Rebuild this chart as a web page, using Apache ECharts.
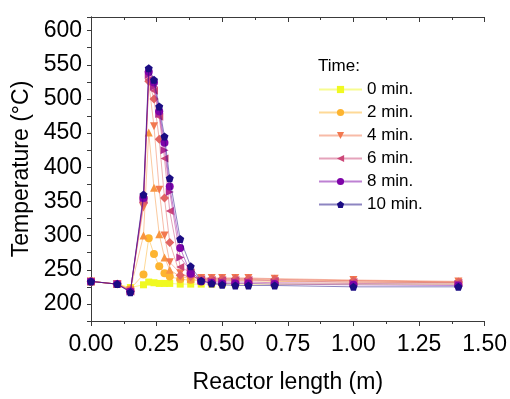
<!DOCTYPE html>
<html><head><meta charset="utf-8">
<script src="https://cdn.jsdelivr.net/npm/echarts@6/dist/echarts.min.js"></script>
<style>html,body{margin:0;padding:0;background:#fff}#c{width:510px;height:399px}</style>
</head><body><div id="c"></div>
<script>
const xPos = [0, 0.1, 0.15, 0.2, 0.22, 0.24, 0.26, 0.28, 0.30, 0.34, 0.38, 0.42, 0.46, 0.50, 0.55, 0.60, 0.70, 1.00, 1.40];
const t0  = [233, 229, 224, 228, 232, 231, 230, 230, 230, 229, 229, 229, 229, 229, 229, 229, 229, 229, 229];
const t2  = [233, 229, 222, 243, 296, 273, 255, 245, 240, 236, 235, 234, 234, 234, 234, 234, 233, 232, 231];
const t3  = [233, 229, 221, 300, 451, 370, 302, 268, 250, 240, 237, 236, 236, 236, 236, 236, 235, 234, 232];
const t4  = [233, 229, 220, 341, 524, 460, 367, 300, 261, 245, 239, 238, 238, 238, 238, 238, 237, 235, 233];
const t5  = [233, 229, 219, 348, 526, 500, 441, 355, 290, 242, 240, 237, 237, 237, 237, 237, 236, 234, 232];
const t6  = [233, 229, 218, 352, 528, 512, 474, 413, 336, 254, 246, 236, 235, 235, 235, 235, 234, 232, 231];
const t7  = [233, 229, 218, 354, 535, 518, 478, 425, 364, 268, 248, 234, 233, 232, 232, 232, 231, 230, 229];
const t8  = [233, 229, 218, 355, 540, 524, 482, 436, 372, 282, 244, 233, 231, 230, 230, 230, 229, 228, 227];
const t10 = [233, 229, 217, 360, 545, 528, 489, 445, 384, 295, 255, 234, 230, 228, 227, 227, 227, 225, 225];
const seriesNames = ['0 min.', '2 min.', '3 min.', '4 min.', '5 min.', '6 min.', '7 min.', '8 min.', '10 min.'];
const legendNames = ['0 min.', '2 min.', '4 min.', '6 min.', '8 min.', '10 min.'];
const seriesVals = [t0, t2, t3, t4, t5, t6, t7, t8, t10];
const colors = ['#f0f921', '#fdb42f', '#f89540', '#f2784f', '#e16462', '#cc4778', '#b12a90', '#7e03a8', '#1b0c83'];
const pentagon = 'path://M0,-10L9.51,-3.09L5.88,8.09L-5.88,8.09L-9.51,-3.09Z';
const symbols = ['rect', 'circle', 'triangle', 'triangle', 'diamond', 'triangle', 'triangle', 'circle', pentagon];
const rotations = [0, 0, 0, 180, 0, 90, -90, 0, 0];
const xTicks = [0, 0.25, 0.5, 0.75, 1.0, 1.25, 1.5];
const yTicks = [200, 250, 300, 350, 400, 450, 500, 550, 600];

const FONT = 'Liberation Sans, Arial, sans-serif';
const chart = echarts.init(document.getElementById('c'), null, {renderer: 'canvas'});
const axisLineStyle = {color: '#3a3a3a', width: 1};
const series = seriesVals.map((vals, i) => ({
  name: seriesNames[i],
  type: 'line',
  data: vals.map((v, j) => [xPos[j], v]),
  symbol: symbols[i],
  symbolRotate: rotations[i],
  symbolSize: i === 0 ? 7 : (symbols[i] === 'diamond' ? 9 : 8),
  showAllSymbol: true,
  itemStyle: {color: colors[i], opacity: 1},
  lineStyle: {color: colors[i], width: 1, opacity: 0.5},
  emphasis: {disabled: true},
  animation: false,
  z: 2 + i
}));
chart.setOption({
  animation: false,
  textStyle: {fontFamily: FONT},
  grid: {left: 91, right: 25, top: 17, bottom: 71, containLabel: false},
  xAxis: [{
    type: 'value', min: 0, max: 1.5, interval: 0.25,
    name: 'Reactor length (m)', nameLocation: 'middle', nameGap: 50,
    nameTextStyle: {fontSize: 23, color: '#000', fontFamily: FONT},
    axisLine: {lineStyle: axisLineStyle},
    axisTick: {show: true, inside: false, length: 5, lineStyle: axisLineStyle},
    minorTick: {show: true, splitNumber: 2, length: 3, lineStyle: axisLineStyle},
    axisLabel: {fontSize: 23, color: '#000', margin: 12, fontFamily: FONT,
      formatter: v => xTicks.some(t => Math.abs(t - v) < 1e-6) ? v.toFixed(2) : ''},
    splitLine: {show: false}
  }, {
    type: 'value', min: 0, max: 1.5, interval: 0.25, position: 'top',
    axisLine: {show: true, lineStyle: axisLineStyle},
    axisTick: {show: true, inside: true, length: 5, lineStyle: axisLineStyle},
    minorTick: {show: true, splitNumber: 2, length: 3, lineStyle: axisLineStyle},
    axisLabel: {show: false}, splitLine: {show: false}
  }],
  yAxis: [{
    type: 'value', min: 175, max: 620, interval: 25,
    name: 'Temperature (°C)', nameLocation: 'middle', nameGap: 57,
    nameTextStyle: {fontSize: 23, color: '#000', fontFamily: FONT},
    axisLine: {show: true, lineStyle: axisLineStyle},
    axisTick: {show: true, inside: false, length: 4, lineStyle: axisLineStyle},
    axisLabel: {fontSize: 23, color: '#000', margin: 9, fontFamily: FONT,
      formatter: v => yTicks.indexOf(Math.round(v)) >= 0 && Math.abs(v - Math.round(v)) < 1e-6 ? String(Math.round(v)) : ''},
    splitLine: {show: false}
  }, {
    type: 'value', min: 175, max: 620, interval: 25, position: 'right',
    axisLine: {show: true, lineStyle: axisLineStyle},
    axisTick: {show: true, inside: true, length: 4, lineStyle: axisLineStyle},
    axisLabel: {show: false}, splitLine: {show: false}
  }],
  legend: {
    orient: 'vertical', left: 318, top: 81, padding: 0,
    itemWidth: 43, itemHeight: 9, itemGap: 6,
    textStyle: {fontSize: 17, color: '#000', fontFamily: FONT},
    data: legendNames, selectedMode: false
  },
  graphic: [{
    type: 'text', left: 318, top: 58,
    style: {text: 'Time:', fontSize: 17, fill: '#000', fontFamily: FONT}
  }],
  series: series
});
</script></body></html>
